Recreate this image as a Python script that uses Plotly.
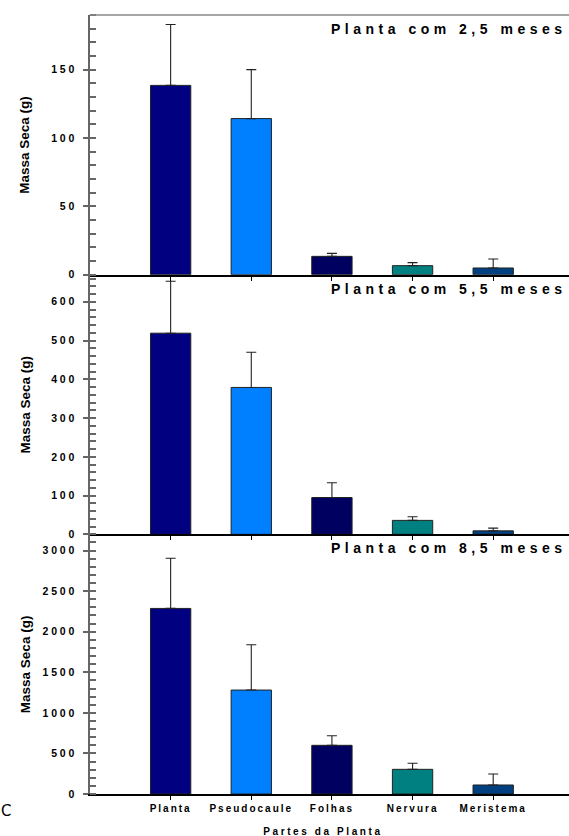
import plotly.graph_objects as go

categories = ["Planta", "Pseudocaule", "Folhas", "Nervura", "Meristema"]
bar_colors = ["#000080", "#0080FF", "#000060", "#008080", "#004080"]

panel_titles = ["Planta com 2,5 meses", "Planta com 5,5 meses", "Planta com 8,5 meses"]

massa_25 = [138.5, 114.2, 13.4, 6.6, 4.9]
erro_25 = [44.5, 35.8, 2.2, 2.2, 6.6]

massa_55 = [519, 379, 95, 36, 9]
erro_55 = [134, 91, 38, 9.5, 7]

massa_85 = [2287, 1281, 600, 304, 111]
erro_85 = [619, 558, 118, 74, 135]

y_ranges = [[0, 190], [0, 670], [0, 3200]]
y_dticks = [50, 100, 500]
y_minor = [10, 20, 100]

x_title = "Partes da Planta"
y_title = "Massa Seca (g)"

W, H = 569, 836
ML, MR, MT, MB = 90, 0, 15, 42
PW = W - ML - MR
PH = H - MT - MB

series = [(massa_25, erro_25), (massa_55, erro_55), (massa_85, erro_85)]

fig = go.Figure()
font_family = "Arial, Liberation Sans, sans-serif"

for i, (vals, errs) in enumerate(series):
    sfx = "" if i == 0 else str(i + 1)
    fig.add_trace(go.Bar(
        x=categories, y=vals,
        marker=dict(color=bar_colors, line=dict(color="#222222", width=1)),
        width=0.5,
        error_y=dict(type="data", array=errs, arrayminus=[0] * len(errs),
                     symmetric=False, color="#222222", thickness=1.1, width=5),
        xaxis="x" + sfx, yaxis="y" + sfx, showlegend=False, hoverinfo="skip",
    ))

panel_h = 1.0 / 3
layout = dict(
    width=W, height=H,
    margin=dict(l=ML, r=MR, t=MT, b=MB),
    plot_bgcolor="white", paper_bgcolor="white",
    font=dict(family=font_family, color="#000000"),
)

for i in range(3):
    sfx = "" if i == 0 else str(i + 1)
    top = 1 - i * panel_h
    bottom = max(0, top - panel_h)
    layout["xaxis" + sfx] = dict(
        domain=[0, 1], anchor="y" + sfx, type="category",
        range=[-1, 4.94],
        showline=True, linecolor="#000000", linewidth=2,
        ticks="outside", ticklen=4, tickcolor="#000000", tickwidth=1,
        showticklabels=(i == 2), showgrid=False, zeroline=False,
        tickfont=dict(size=10, family=font_family, weight="bold", color="#000000"),
        **({} if i == 0 else {"matches": "x"}),
    )
    layout["yaxis" + sfx] = dict(
        domain=[bottom, top], anchor="x" + sfx,
        range=y_ranges[i], dtick=y_dticks[i], tick0=0,
        showline=True, linecolor="#666666", linewidth=1.5,
        ticks="outside", ticklen=5, tickcolor="#666666", tickwidth=1.5,
        minor=dict(ticks="inside", ticklen=6, tickcolor="#666666", tickwidth=1.5,
                   dtick=y_minor[i], tick0=0, showgrid=False),
        showgrid=False, zeroline=False, ticklabelstandoff=4,
        tickfont=dict(size=10.5, family=font_family, weight="bold", color="#000000"),
    )

annotations = []
# panel titles (indices 0-2, letter spaced)
for i in range(3):
    top = 1 - i * panel_h
    annotations.append(dict(
        text=panel_titles[i], xref="paper", yref="paper",
        x=1, y=top - 4 / PH, xanchor="right", yanchor="top", align="right",
        showarrow=False,
        font=dict(size=14, family=font_family, weight="bold", color="#000000"),
    ))
# x title (index 3, letter spaced)
annotations.append(dict(
    text=x_title, xref="paper", yref="paper",
    x=(323 - ML) / PW, y=-(831 - (H - MB)) / PH, xanchor="center", yanchor="middle",
    showarrow=False,
    font=dict(size=10, family=font_family, weight="bold", color="#000000"),
))
# y titles
for i in range(3):
    top = 1 - i * panel_h
    annotations.append(dict(
        text=y_title, xref="paper", yref="paper",
        x=(25 - ML) / PW, y=top - panel_h / 2, xanchor="center", yanchor="middle",
        textangle=-90, showarrow=False,
        font=dict(size=13.5, family=font_family, weight="bold", color="#000000"),
    ))
# panel letter at the left edge
annotations.append(dict(
    text="C", xref="paper", yref="paper",
    x=(0 - ML) / PW, y=-(811 - (H - MB)) / PH, xanchor="left", yanchor="middle",
    showarrow=False, borderpad=0,
    font=dict(size=15, family="DejaVu Sans, sans-serif", color="#000000"),
))
layout["annotations"] = annotations

layout["shapes"] = [dict(type="line", xref="paper", yref="paper",
                         x0=0, x1=1, y0=1, y1=1,
                         line=dict(color="#888888", width=1.5))]

fig.update_layout(**layout)

post = """
document.body.style.margin = '0';
document.body.style.overflow = 'hidden';
var s = document.createElement('style');
s.textContent =
  '.xtick text, .x2tick text, .x3tick text {letter-spacing: 2px;} ' +
  '.ytick text, .y2tick text, .y3tick text {letter-spacing: 2.8px;} ' +
  'g.annotation[data-index="0"] text, g.annotation[data-index="1"] text, g.annotation[data-index="2"] text {letter-spacing: 4.5px;} ' +
  'g.annotation[data-index="3"] text {letter-spacing: 2.6px;}';
document.head.appendChild(s);
"""

fig.write_html("out.html", post_script=post, config={"displayModeBar": False})
